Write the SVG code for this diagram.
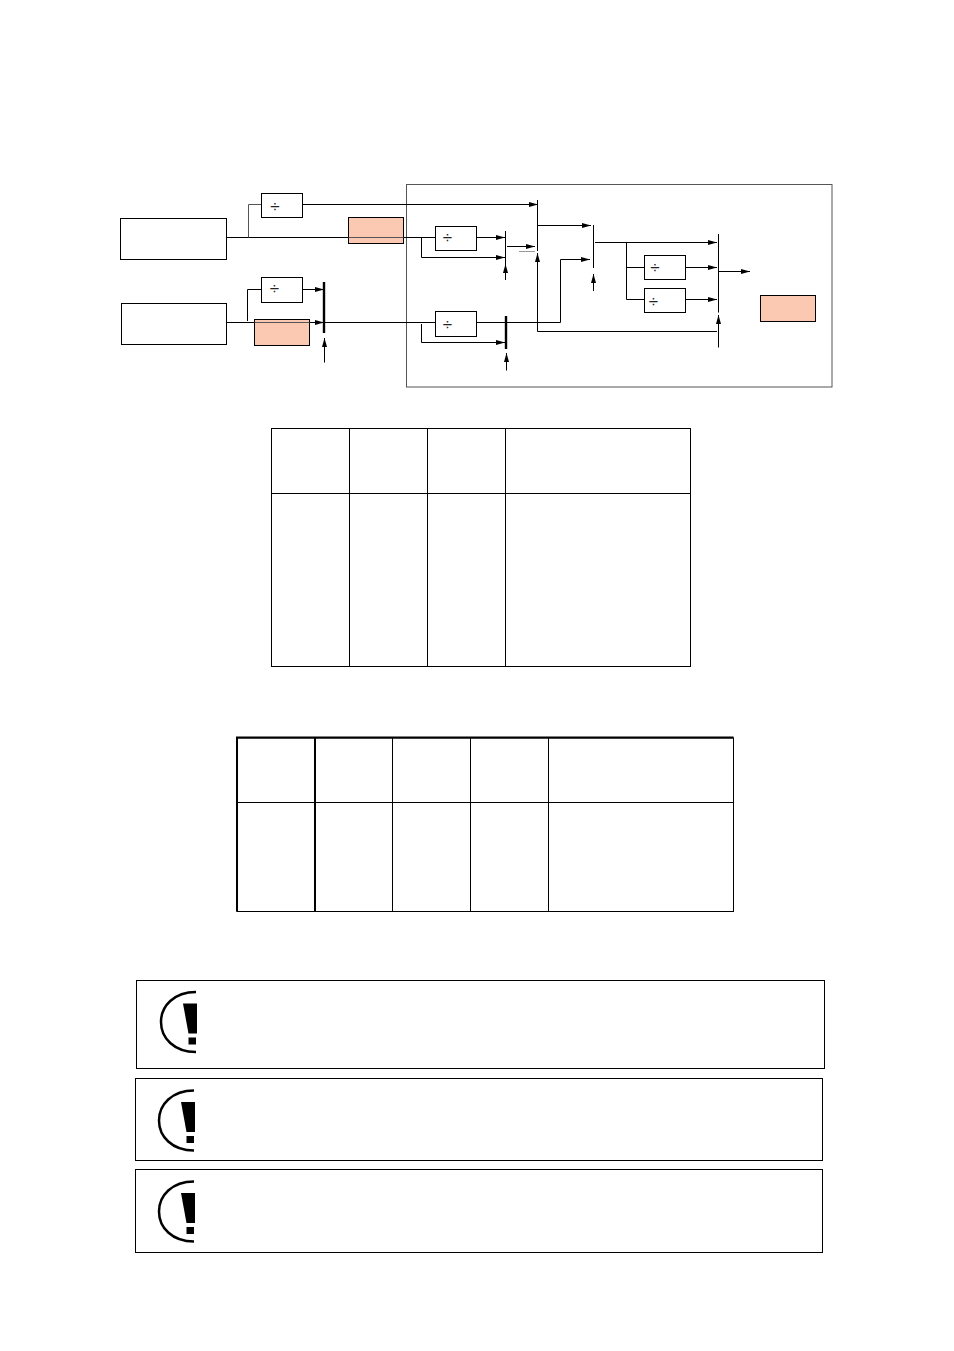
<svg xmlns="http://www.w3.org/2000/svg" width="954" height="1351" viewBox="0 0 954 1351">
<style>
.b{fill:#fff;stroke:#000;stroke-width:1}
.s{fill:#fbc8b1;stroke:#000;stroke-width:1}
.l{fill:none;stroke:#000;stroke-width:1}
.g{fill:none;stroke:#555;stroke-width:1}
.a{fill:none;stroke:#000;stroke-width:1;marker-end:url(#ah)}
.bar{stroke:#000;stroke-width:1;fill:none}
.thick{stroke:#000;stroke-width:2.400;fill:none}
.t{font-family:"Liberation Sans",Arial,sans-serif;font-size:17px;fill:#222;text-anchor:middle}
.frame{fill:none;stroke:#000;stroke-width:1}
.tk{fill:none;stroke:#000;stroke-width:2}
.arc{fill:none;stroke:#000;stroke-width:2.500}
</style>
<defs>
<marker id="ah" markerUnits="userSpaceOnUse" markerWidth="10" markerHeight="7" refX="9" refY="3.500" orient="auto">
<path d="M0 1L9 3.500L0 6Z" fill="#000"/>
</marker>
<g id="warn">
<path class="arc" d="M36 0C14 0 1 14 1 30C1 46 14 60 36 60"/>
<path d="M23 11.500H37V41.500H28.500Z" fill="#000"/>
<rect x="28.500" y="45.500" width="7.500" height="7" fill="#000"/>
</g>
</defs>
<rect width="954" height="1351" fill="#fff"/>
<g id="frame"><rect x="406.500" y="184.500" width="425.500" height="202.500" fill="none" stroke="#555" stroke-width="1"/></g>
<g id="connectors">
<path class="l" d="M227 237.500H435.500"/>
<path class="g" d="M248.500 237.500V204.500H261.500"/>
<path class="a" d="M302.500 204.500H538"/>
<path class="l" d="M227 322.500H352"/>
<path class="l" d="M247.500 321V289.500H261.500"/>
<path class="a" d="M302.500 289.500H324"/>
<path class="a" d="M300 322.500H324"/>
<path class="a" d="M324.500 362.500V338"/>
<path class="l" d="M352 322.500H435.500"/>
<path class="l" d="M421.500 238V257.500"/>
<path class="a" d="M421.500 257.500H505"/>
<path class="a" d="M476.500 237.500H505"/>
<path class="a" d="M505.500 280V264"/>
<path class="a" d="M507 246.500H535"/>
<path d="M519 251.500H535" stroke="#999" stroke-width="1" fill="none"/>
<path class="l" d="M421.500 324V342.500"/>
<path class="a" d="M421.500 342.500H505"/>
<path class="l" d="M476.500 322.500H505"/>
<path class="a" d="M506.500 370.500V353"/>
<path class="l" d="M507 322.500H560.500V259.500"/>
<path class="a" d="M560.500 259.500H590"/>
<path class="a" d="M538 225.500H591"/>
<path class="a" d="M593.500 291V274"/>
<path class="a" d="M537.500 331.500V253"/>
<path class="l" d="M537.500 331.500H717"/>
<path class="a" d="M595 242.500H717"/>
<path class="l" d="M626.500 242.500V299.500H644.500"/>
<path class="l" d="M626.500 267.500H644.500"/>
<path class="a" d="M685.500 267.500H717"/>
<path class="a" d="M685.500 299.500H717"/>
<path class="a" d="M719 271.500H750"/>
<path class="a" d="M718.500 347.500V315"/>
</g>
<g id="bars">
<path class="thick" d="M324 282V333"/>
<path class="bar" d="M505.500 231V279"/>
<path class="thick" d="M506 316V349"/>
<path class="bar" d="M537.500 200V251"/>
<path class="bar" d="M593.500 225V268"/>
<path class="bar" d="M718.500 234V312.500"/>
</g>
<g id="source-a"><rect class="b" x="120.500" y="218.500" width="106" height="41"/></g>
<g id="source-b"><rect class="b" x="121.500" y="303.500" width="105" height="41"/></g>
<g id="div-1"><rect class="b" x="261.500" y="193.500" width="41" height="24"/><text class="t" x="275" y="212">÷</text></g>
<g id="div-2"><rect class="b" x="261.500" y="277.500" width="41" height="25"/><text class="t" x="274.500" y="293.500">÷</text></g>
<g id="div-3"><rect class="b" x="435.500" y="226.500" width="41" height="24"/><text class="t" x="447.500" y="243">÷</text></g>
<g id="div-4"><rect class="b" x="435.500" y="311.500" width="41" height="25"/><text class="t" x="447.500" y="330">÷</text></g>
<g id="div-5"><rect class="b" x="644.500" y="255.500" width="41" height="24"/><text class="t" x="655" y="272.500">÷</text></g>
<g id="div-6"><rect class="b" x="644.500" y="288.500" width="41" height="24"/><text class="t" x="653.500" y="307">÷</text></g>
<g id="tag-1"><rect class="s" x="348.500" y="217.500" width="55" height="26"/><path d="M348.500 237.500H403.500" stroke="#555" stroke-width="1" fill="none"/></g>
<g id="tag-2"><rect class="s" x="254.500" y="319.500" width="55" height="26"/><path d="M254.500 322.500H309.500" stroke="#555" stroke-width="1" fill="none"/></g>
<g id="tag-3"><rect class="s" x="760.500" y="295.500" width="55" height="26"/></g>
<g id="table-1">
<rect class="frame" x="271.500" y="428.500" width="419" height="238"/>
<path class="frame" d="M271.500 493.500H690.500M349.500 428.500V666.500M427.500 428.500V666.500M505.500 428.500V666.500"/>
</g>
<g id="table-2">
<rect class="frame" x="237" y="738" width="496.500" height="173.500"/>
<path class="frame" d="M237 802.500H733.500M392.500 738V911.500M470.500 738V911.500M548.500 738V911.500"/>
<path class="tk" d="M237 911.500V737.500H733.500M315 738V911.500"/>
</g>
<g id="note-1"><rect class="b" x="136.500" y="980.500" width="688" height="88"/><use href="#warn" transform="translate(160,992)"/></g>
<g id="note-2"><rect class="b" x="135.500" y="1078.500" width="687" height="82"/><use href="#warn" transform="translate(158,1090.500)"/></g>
<g id="note-3"><rect class="b" x="135.500" y="1169.500" width="687" height="83"/><use href="#warn" transform="translate(158,1181.500)"/></g>
</svg>
